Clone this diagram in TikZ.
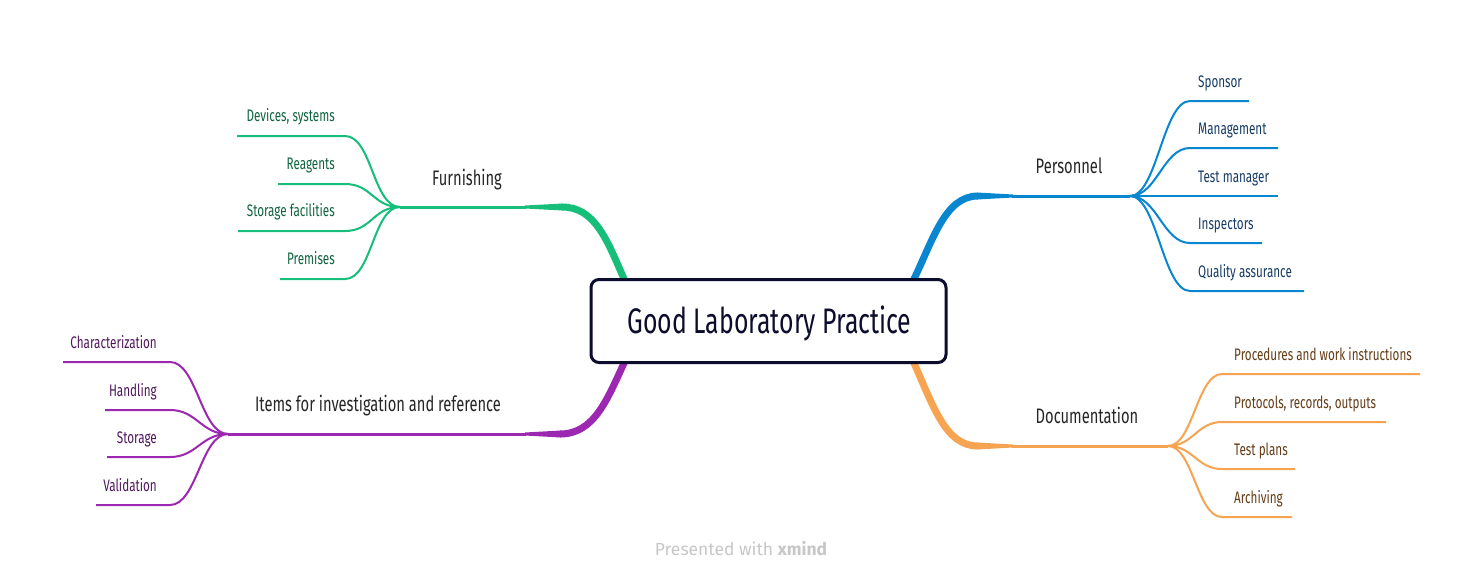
\documentclass[tikz,border=0pt]{standalone}
\usepackage{fontspec}
\setmainfont{Fira Sans}[FakeStretch=0.7]
\newfontfamily\wmfont{Fira Sans}
\usetikzlibrary{calc}
\usetikzlibrary{backgrounds}

\definecolor{navy}{RGB}{12,12,44}
\definecolor{furn}{RGB}{22,190,122}
\definecolor{furntxt}{RGB}{14,100,62}
\definecolor{pers}{RGB}{8,134,208}
\definecolor{perstxt}{RGB}{22,60,100}
\definecolor{docu}{RGB}{246,163,82}
\definecolor{docutxt}{RGB}{100,60,22}
\definecolor{item}{RGB}{156,39,176}
\definecolor{itemtxt}{RGB}{80,24,92}

\tikzset{
	corebox/.style={draw=navy, fill=white, line width=3pt, rounded corners=8pt,
			minimum width=355pt, minimum height=83pt, text=navy,
			font=\fontsize{35.5}{35.5}\selectfont},
	topic/.style={text=black!85, font=\fontsize{21}{21}\selectfont, inner sep=0pt},
	leaf/.style={font=\fontsize{16.7}{16.7}\selectfont, inner sep=0pt},
	trunk/.style={draw=#1, line width=7pt},
	limb/.style={draw=#1, line width=3pt},
	twig/.style={draw=#1, line width=2pt}
}

\begin{document}
\begin{tikzpicture}[x=1pt, y=-1pt]
	\useasboundingbox (0,0) rectangle (1483,581);

	\node[corebox] (glp) at (768.5,321) {};
	\node[text=navy, font=\fontsize{35.5}{35.5}\selectfont, anchor=base] (title) at (769.5,333) {Good Laboratory Practice};

	\node[topic, anchor=base] (furnishing) at (467,185.5) {Furnishing};
	\node[topic, anchor=base] (personnel) at (1069,173.5) {Personnel};
	\node[topic, anchor=base] (documentation) at (1087,423) {Documentation};
	\node[topic, anchor=base] (items) at (378,411.5) {Items for investigation and reference};

	\coordinate (furnJ) at (400,207);
	\coordinate (persJ) at (1130,196);
	\coordinate (docuJ) at (1168,446);
	\coordinate (itemJ) at (228,434);

	\begin{scope}[on background layer]
		\fill[white] (0,0) rectangle (1483,581);

		% Furnishing
		\draw[trunk=furn] ($(glp.north west)+(35,2)$) .. controls (607,240) and (595,207) .. (562,207);
		\fill[furn] (563,203.5) -- (525,205.5) -- (525,208.5) -- (563,210.5) -- cycle;
		\draw[limb=furn] (526,207) -- (furnJ);
		\foreach \i/\yy/\xe/\txt in {1/136/237/{Devices, systems}, 2/184/278/{Reagents},
				3/231/238/{Storage facilities}, 4/279/280/{Premises}} {
			\coordinate (furn-\i) at (\xe,\yy);
			\draw[twig=furn] (furnJ) .. controls (373,207) and (372,\yy) .. (345,\yy) -- (furn-\i);
			\node[leaf, text=furntxt, anchor=base east] at (335,\yy-15) {\txt};
		}

		% Personnel
		\draw[trunk=pers] ($(glp.north east)+(-34,2)$) .. controls (933,240) and (945,196) .. (978,196);
		\fill[pers] (977,192.5) -- (1013,194.5) -- (1013,197.5) -- (977,199.5) -- cycle;
		\draw[limb=pers] (1012,196) -- (persJ);
		\foreach \i/\yy/\xe/\txt in {1/101/1249/{Sponsor}, 2/148/1278/{Management},
				3/196/1278/{Test manager}, 4/243/1262/{Inspectors}, 5/291/1304/{Quality assurance}} {
			\coordinate (pers-\i) at (\xe,\yy);
			\draw[twig=pers] (persJ) .. controls (1157,196) and (1163,\yy) .. (1190,\yy) -- (pers-\i);
			\node[leaf, text=perstxt, anchor=base west] at (1198,\yy-14) {\txt};
		}

		% Documentation
		\draw[trunk=docu] ($(glp.south east)+(-34,-2)$) .. controls (933,405) and (945,446) .. (978,446);
		\fill[docu] (977,442.5) -- (1013,444.5) -- (1013,447.5) -- (977,449.5) -- cycle;
		\draw[limb=docu] (1012,446) -- (docuJ);
		\foreach \i/\yy/\xe/\txt in {1/374/1420/{Procedures and work instructions},
				2/422/1386/{Protocols, records, outputs}, 3/469/1295/{Test plans}, 4/517/1292/{Archiving}} {
			\coordinate (docu-\i) at (\xe,\yy);
			\draw[twig=docu] (docuJ) .. controls (1193,446) and (1197,\yy) .. (1222,\yy) -- (docu-\i);
			\node[leaf, text=docutxt, anchor=base west] at (1234,\yy-14) {\txt};
		}

		% Items
		\draw[trunk=item] ($(glp.south west)+(35,-2)$) .. controls (607,400) and (594,434) .. (560,434);
		\fill[item] (561,430.5) -- (525,432.5) -- (525,435.5) -- (561,437.5) -- cycle;
		\draw[limb=item] (526,434) -- (itemJ);
		\foreach \i/\yy/\xe/\txt in {1/362/63/{Characterization}, 2/410/105/{Handling},
				3/457/107/{Storage}, 4/505/96/{Validation}} {
			\coordinate (item-\i) at (\xe,\yy);
			\draw[twig=item] (itemJ) .. controls (201,434) and (197,\yy) .. (170,\yy) -- (item-\i);
			\node[leaf, text=itemtxt, anchor=base east] at (157,\yy-14) {\txt};
		}
	\end{scope}

	\node[text=black!22, font=\wmfont\fontsize{17.5}{17.5}\selectfont] (credit) at (741,549) {Presented with \textbf{xmind}};
\end{tikzpicture}
\end{document}
